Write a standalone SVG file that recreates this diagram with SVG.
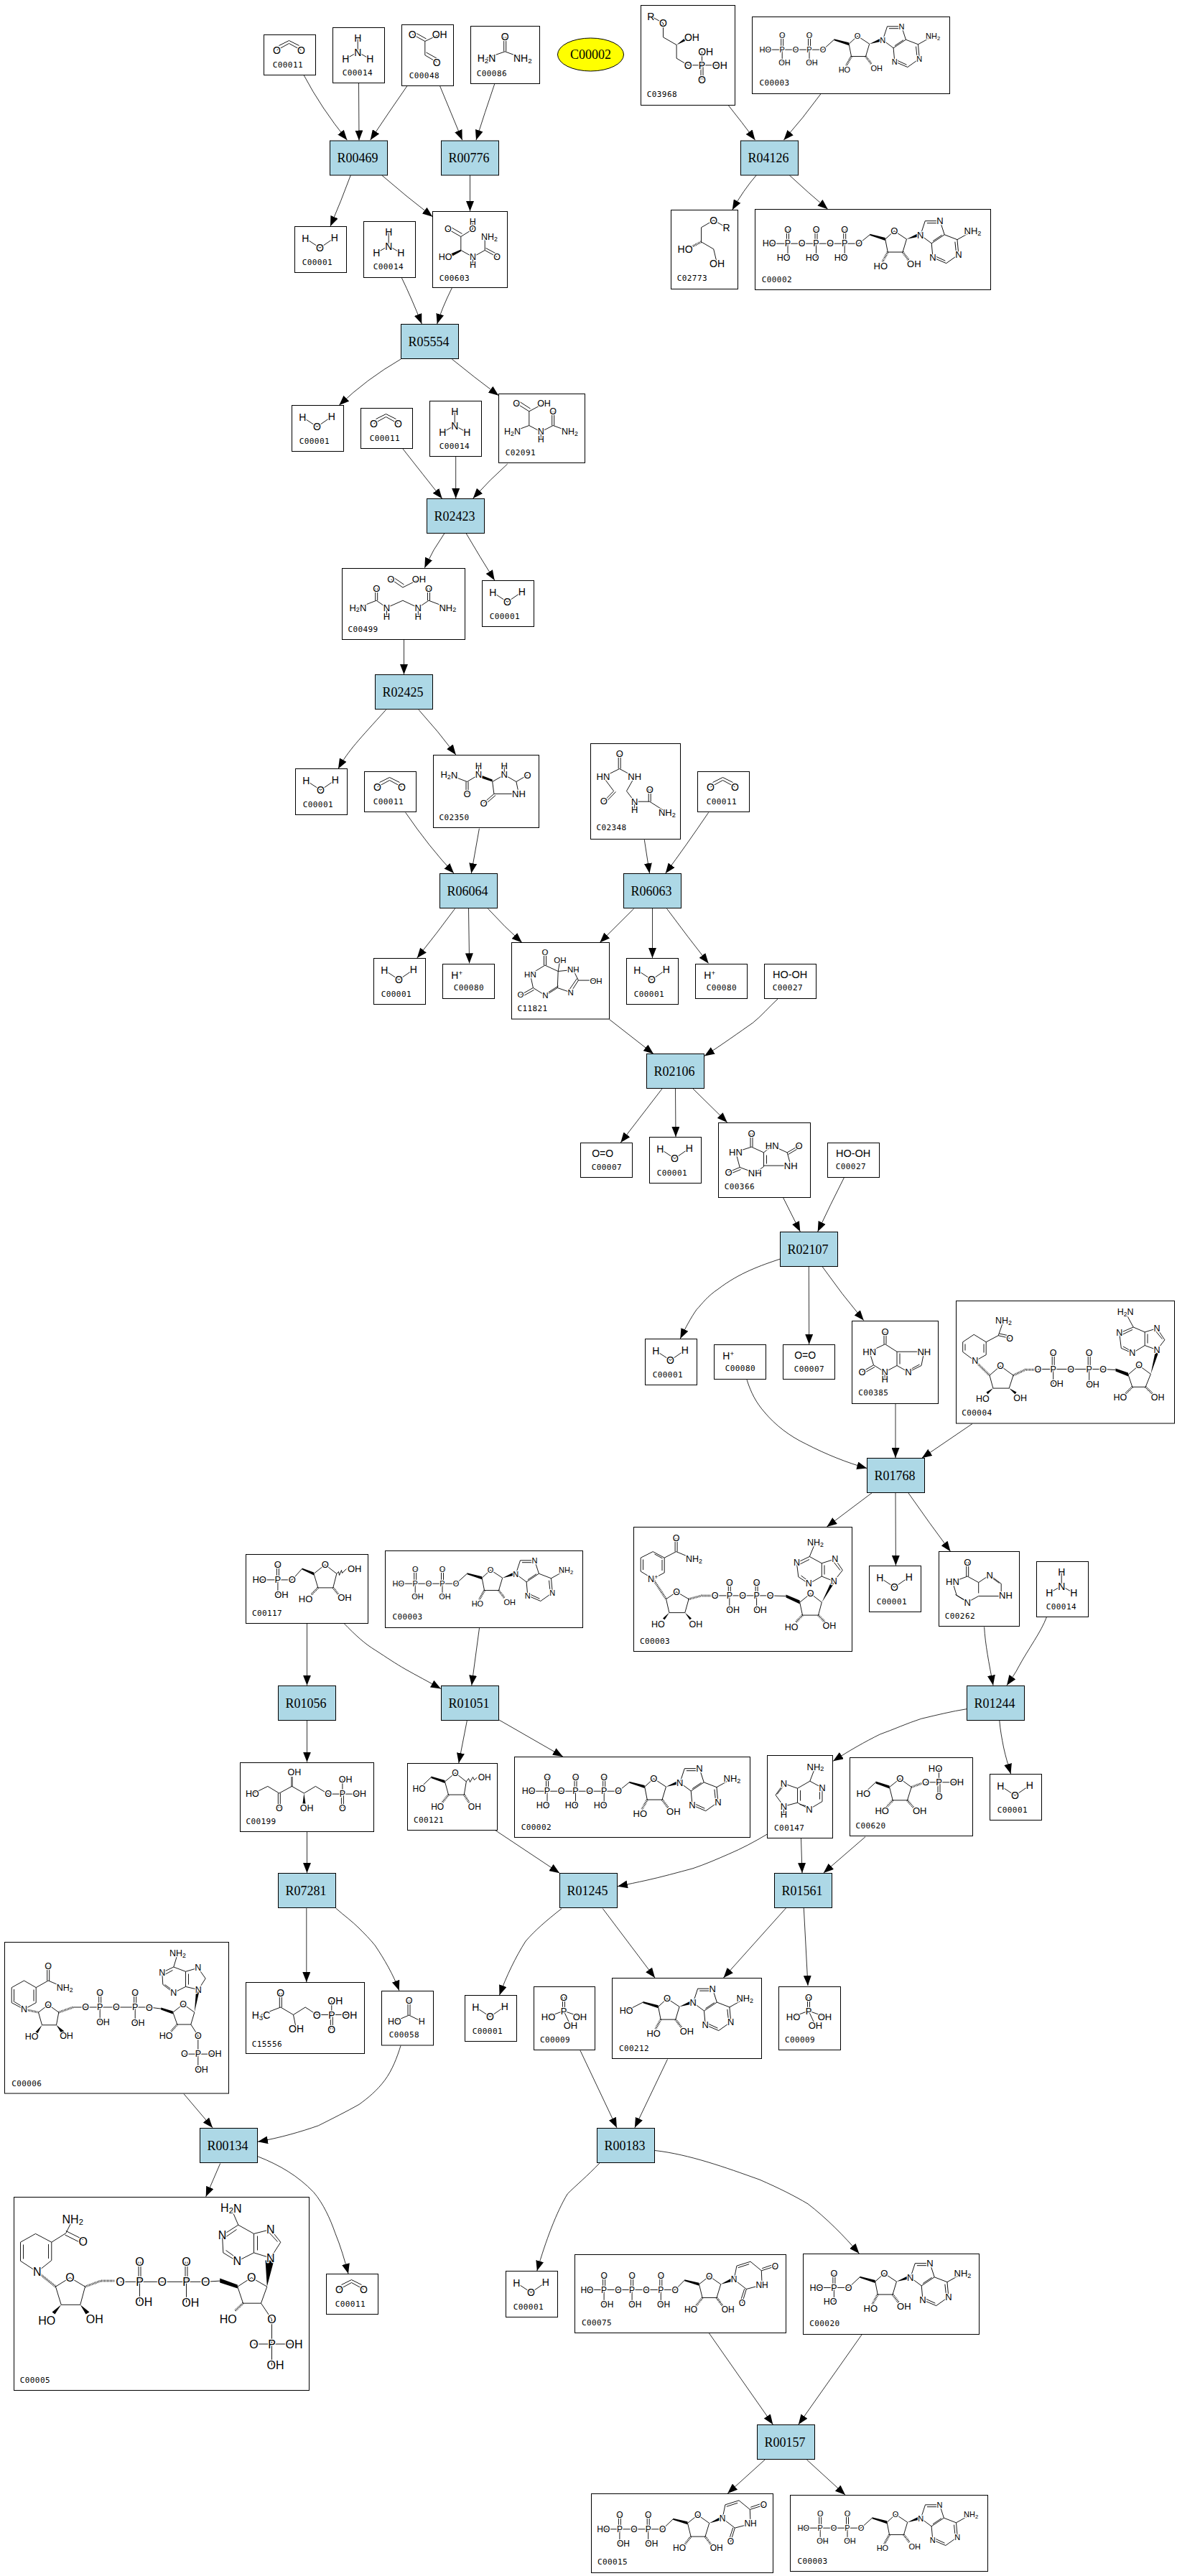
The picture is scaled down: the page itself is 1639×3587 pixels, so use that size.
<svg xmlns="http://www.w3.org/2000/svg" width="1639" height="3587" viewBox="0 0 1639 3587">
<style>
.b{fill:none;stroke:#000;stroke-width:.9}
.w{fill:#000;stroke:none}
.h{fill:none;stroke:#000;stroke-width:3;stroke-dasharray:.8 1.2}
.a{font-family:"Liberation Sans",Arial,sans-serif;text-anchor:middle;dominant-baseline:central;stroke:#fff;stroke-width:2.5;stroke-linejoin:round;paint-order:stroke;fill:#000;opacity:.999}
.l{font-family:"DejaVu Sans Mono","Liberation Mono",monospace;font-size:11px;letter-spacing:.4px;fill:#000;opacity:.999}
.c{fill:#fff;stroke:#000;stroke-width:1}
.r{fill:#ADD8E6;stroke:#000;stroke-width:1}
.t{font-family:"Liberation Serif","Times New Roman",serif;font-size:18px;text-anchor:middle;dominant-baseline:central;fill:#000;opacity:.999}
.e{fill:none;stroke:#000;stroke-width:.8;marker-end:url(#ah)}
.s{font-size:.7em}
</style>
<defs>
<marker id="ah" viewBox="0 0 14 11" refX="14" refY="5.5" markerWidth="14" markerHeight="11" markerUnits="userSpaceOnUse" orient="auto"><path d="M0,0L14,5.5L0,11z" fill="#000"/></marker>

<g id="mW" font-size="14"><path class="b" d="M14.7,16.3L35,29.7L55.3,15.7"/><text class="a" x="14.7" y="16.3">H</text><text class="a" x="35" y="29.7">O</text><text class="a" x="55.3" y="15.7">H</text></g>

<g id="mCO2" font-size="14"><path class="b" d="M18,21.3L35,12L52,21.3M21,15L35,8L49,15"/><text class="a" x="18" y="21.3">O</text><text class="a" x="52" y="21.3">O</text></g>

<g id="mNH3" font-size="14"><path class="b" d="M34.7,14.7V34M17.7,43.7L34.7,34L51.7,43.7"/><text class="a" x="34.7" y="14.7">H</text><text class="a" x="34.7" y="34">N</text><text class="a" x="17.7" y="43.7">H</text><text class="a" x="51.7" y="43.7">H</text></g>

<g id="mC00048" font-size="14"><path class="b" d="M14.7,13.3L32.3,23L52.7,13.3M32.3,23V42.3L48.7,52M17,10L34,19.5M34,38.5L51,48"/><text class="a" x="14.7" y="13.3">O</text><text class="a" x="52.7" y="13.3">OH</text><text class="a" x="48.7" y="52">O</text></g>

<g id="mC00086" font-size="14"><path class="b" d="M46.2,14.7V35M49.2,14.7V35M22,44.3L47.7,35.3L72.3,44.3"/><text class="a" x="47.7" y="14.7">O</text><text class="a" x="22" y="44.3">H<tspan class="s" dy="3">2</tspan><tspan dy="-3">N</tspan></text><text class="a" x="72.3" y="44.3">NH<tspan class="s" dy="3">2</tspan></text></g>

<g id="mC00603" font-size="12.5"><path class="b" d="M21.3,24.7L39.3,35L55.7,24.7M24,21L41,31M55.7,24.7V14M39.3,35V54L56,63.3L72.7,54L89.7,63.3M72.7,54V35.7M74,51L91,60M56,63.3V74"/><polygon class="w" points="39.3,53 39.3,55.5 25,63.5 24,59.5"/><text class="a" x="21.3" y="24.7">O</text><text class="a" x="55.7" y="24.7">O</text><text class="a" x="55.7" y="14">H</text><text class="a" x="17.7" y="63.3">HO</text><text class="a" x="56" y="63.3">N</text><text class="a" x="56" y="74">H</text><text class="a" x="79" y="35.7">NH<tspan class="s" dy="3">2</tspan></text><text class="a" x="89.7" y="63.3">O</text></g>

<g id="mC03968" font-size="14"><path class="b" d="M13.8,15L31,24.7V44.3L49.6,55V73.7L65.8,83.3H109.8M85,64V83.3M83.5,83.3V103.3M86.5,83.3V103.3"/><polygon class="w" points="49.6,55 63,44 65,48"/><text class="a" x="13.8" y="15">R</text><text class="a" x="31" y="24.7">O</text><text class="a" x="70.9" y="44.3">OH</text><text class="a" x="65.8" y="83.3">O</text><text class="a" x="85" y="83.3">P</text><text class="a" x="90.2" y="64">OH</text><text class="a" x="109.8" y="83.3">OH</text><text class="a" x="85" y="103.3">O</text></g>

<g id="mC02773" font-size="14"><path class="b" d="M77.1,24.3L59.2,14.3L42,24.3V44.3L59.2,54.3L64,74.3"/><path class="h" d="M42,44.3L28,51.5"/><text class="a" x="59.2" y="14.3">O</text><text class="a" x="77.1" y="24.3">R</text><text class="a" x="19.6" y="54.3">HO</text><text class="a" x="64" y="74.3">OH</text></g>

<g id="mAdo"><path class="b" d="M20.6,6L32.6,-5L49.2,6L44,23.3H24ZM67.8,.6L74,-18.4H94L99.9,0L82.6,11.6ZM82.6,11.6L84.3,30.6L102.3,38.3L118.8,26.6L117,6.6L99.9,0M117,6.6L137.7,-5M76.5,-15.5H91.5M84.5,8.5L96.5,0.5M88,29L101,35M114,9.5L115.5,23.5"/><polygon class="w" points="0,-1 20.6,4 20.6,8 0,1"/><polygon class="w" points="49.2,6 65,-2 65.5,2.5"/><path class="h" d="M24,23.3L17,36M44,23.3L52,34"/><text class="a" x="32.6" y="-5">O</text><text class="a" x="14.4" y="42.3">HO</text><text class="a" x="59.2" y="39.6">OH</text><text class="a" x="67.8" y=".6">N</text><text class="a" x="94" y="-18.4">N</text><text class="a" x="84.3" y="30.6">N</text><text class="a" x="118.8" y="26.6">N</text><text class="a" x="137.7" y="-5">NH<tspan class="s" dy="3">2</tspan></text></g>

<g id="mADP" font-size="11"><path class="b" d="M18.3,45.7H98.5L114,31.7M40.2,25.3V45.7M43.2,25.3V45.7M41.7,45.7V63.3M78,25.3V45.7M81,25.3V45.7M79.5,45.7V63.3"/><use href="#mAdo" transform="translate(114,31.7)"/><text class="a" x="18.3" y="45.7">HO</text><text class="a" x="41.7" y="45.7">P</text><text class="a" x="60.6" y="45.7">O</text><text class="a" x="79.5" y="45.7">P</text><text class="a" x="98.5" y="45.7">O</text><text class="a" x="41.7" y="25.3">O</text><text class="a" x="79.5" y="25.3">O</text><text class="a" x="45" y="63.3">OH</text><text class="a" x="83" y="63.3">OH</text></g>

<g id="mATP" font-size="12.5"><path class="b" d="M19.6,47.7H144.6L159.8,35.3M44,28V47.7M47,28V47.7M45.5,47.7V67.7M83.5,28V47.7M86.5,28V47.7M85,47.7V67.7M123.2,28V47.7M126.2,28V47.7M124.7,47.7V67.7"/><use href="#mAdo" transform="translate(159.8,35.3) scale(1.04)"/><text class="a" x="19.6" y="47.7">HO</text><text class="a" x="45.5" y="47.7">P</text><text class="a" x="65.1" y="47.7">O</text><text class="a" x="85" y="47.7">P</text><text class="a" x="104.7" y="47.7">O</text><text class="a" x="124.7" y="47.7">P</text><text class="a" x="144.6" y="47.7">O</text><text class="a" x="45.5" y="28">O</text><text class="a" x="85" y="28">O</text><text class="a" x="124.7" y="28">O</text><text class="a" x="39.7" y="67.7">HO</text><text class="a" x="79.5" y="67.7">HO</text><text class="a" x="119.5" y="67.7">HO</text></g>

<g id="mAMP" font-size="12.5"><path class="b" d="M18.4,47H63.1L78.8,32.3M41.4,27.3V47M44.4,27.3V47M42.9,47V66.7"/><use href="#mAdo" transform="translate(78.8,32.3) scale(1.04)"/><text class="a" x="18.4" y="47">HO</text><text class="a" x="42.9" y="47">P</text><text class="a" x="63.1" y="47">O</text><text class="a" x="42.9" y="27.3">O</text><text class="a" x="37.5" y="66.7">HO</text></g>

<g id="mC00212" font-size="12.5"><path class="b" d="M19.6,45.5L42.9,33.6"/><use href="#mAdo" transform="translate(42.9,33.6) scale(1.03)"/><text class="a" x="19.6" y="45.5">HO</text></g>

<g id="mUri"><path class="b" d="M20.3,5.6L34.5,-5.7L50.5,5.6L44.8,24.3H24.9ZM68.9,-1L72.7,-20L91.8,-26L107.1,-13.4L107.9,6.6L86.1,12.3L68.9,-1M107.1,-13.4L126.3,-19.4M108,-16.5L124,-22M86.1,12.3L80.3,31.6M83.5,12L78,29M74.5,-17.5L90,-22.5"/><polygon class="w" points="0,-1 20.3,3.5 20.3,7.5 0,1"/><polygon class="w" points="50.5,5.6 66,-3 66.5,1.5"/><path class="h" d="M24.9,24.3L15,37M44.8,24.3L54,37"/><text class="a" x="34.5" y="-5.7">O</text><text class="a" x="8.8" y="40.6">HO</text><text class="a" x="60.5" y="40.6">OH</text><text class="a" x="68.9" y="-1">N</text><text class="a" x="126.3" y="-19.4">O</text><text class="a" x="107.9" y="6.6">NH</text><text class="a" x="80.3" y="31.6">O</text></g>

<g id="mUTP" font-size="12"><path class="b" d="M16.9,49H139.7L152.7,35.7M39.1,29.7V49M42.1,29.7V49M40.6,49V69M78.1,29.7V49M81.1,29.7V49M79.6,49V69M118.3,29.7V49M121.3,29.7V49M119.8,49V69"/><use href="#mUri" transform="translate(152.7,35.7)"/><text class="a" x="16.9" y="49">HO</text><text class="a" x="40.6" y="49">P</text><text class="a" x="60.5" y="49">O</text><text class="a" x="79.6" y="49">P</text><text class="a" x="99.5" y="49">O</text><text class="a" x="119.8" y="49">P</text><text class="a" x="139.7" y="49">O</text><text class="a" x="40.6" y="29.7">O</text><text class="a" x="79.6" y="29.7">O</text><text class="a" x="119.8" y="29.7">O</text><text class="a" x="44.8" y="69">OH</text><text class="a" x="83.8" y="69">OH</text><text class="a" x="123.6" y="69">OH</text></g>

<g id="mUDP" font-size="12"><path class="b" d="M16.8,49.3H99.1L113.7,35.3M37.9,29.3V49.3M40.9,29.3V49.3M39.4,49.3V69.3M77.7,29.3V49.3M80.7,29.3V49.3M79.2,49.3V69.3"/><use href="#mUri" transform="translate(113.7,35.3)"/><text class="a" x="16.8" y="49.3">HO</text><text class="a" x="39.4" y="49.3">P</text><text class="a" x="59.3" y="49.3">O</text><text class="a" x="79.2" y="49.3">P</text><text class="a" x="99.1" y="49.3">O</text><text class="a" x="39.4" y="29.3">O</text><text class="a" x="79.2" y="29.3">O</text><text class="a" x="44.4" y="69.3">OH</text><text class="a" x="83.8" y="69.3">OH</text></g>

<g id="mC02091" font-size="12.5"><path class="b" d="M24.7,13.3L42.3,24.3L63,13.3M27,9.5L44,20.5M42.3,24.3V44L19,52.7M42.3,44L58.7,52.7L75.7,44L99,52.7M74.2,24V44M77.2,24V44M58.7,52.7V63.3"/><text class="a" x="24.7" y="13.3">O</text><text class="a" x="63" y="13.3">OH</text><text class="a" x="19" y="52.7">H<tspan class="s" dy="3">2</tspan><tspan dy="-3">N</tspan></text><text class="a" x="58.7" y="52.7">N</text><text class="a" x="58.7" y="63.3">H</text><text class="a" x="75.7" y="24">O</text><text class="a" x="99" y="52.7">NH<tspan class="s" dy="3">2</tspan></text></g>

<g id="mC00499" font-size="13"><path class="b" d="M67.9,15.2L84.4,26.5L107,15.2M70,11.5L86,22.5M21.9,54.7L47.7,44.7L62,54.7L84.4,44.7L105.8,54.7L120.5,44.7L146.8,54.7M46.2,27.8V44.7M49.2,27.8V44.7M119,27.8V44.7M122,27.8V44.7M62,54.7V66.5M105.8,54.7V66.5"/><text class="a" x="67.9" y="15.2">O</text><text class="a" x="107" y="15.2">OH</text><text class="a" x="47.7" y="27.8">O</text><text class="a" x="120.5" y="27.8">O</text><text class="a" x="21.9" y="54.7">H<tspan class="s" dy="3">2</tspan><tspan dy="-3">N</tspan></text><text class="a" x="62" y="54.7">N</text><text class="a" x="62" y="66.5">H</text><text class="a" x="105.8" y="54.7">N</text><text class="a" x="105.8" y="66.5">H</text><text class="a" x="146.8" y="54.7">NH<tspan class="s" dy="3">2</tspan></text></g>

<g id="mC02350" font-size="13"><path class="b" d="M21.9,27.4L47,37L63,27.4M45.5,37V53.9M48.5,37V53.9M63,14.7V27.4M98.8,14.7V27.4M82.2,37L98.8,27.4L115.4,37L118.9,53.9H84.4L82.2,37M115.4,37L131,27.8M84.4,53.9L70,66.5M86.5,56L72,68.5"/><polygon class="w" points="82.2,37 82.2,34 68,28.5 67,32"/><text class="a" x="21.9" y="27.4">H<tspan class="s" dy="3">2</tspan><tspan dy="-3">N</tspan></text><text class="a" x="47" y="53.9">O</text><text class="a" x="63" y="27.4">N</text><text class="a" x="63" y="14.7">H</text><text class="a" x="98.8" y="27.4">N</text><text class="a" x="98.8" y="14.7">H</text><text class="a" x="131" y="27.8">O</text><text class="a" x="118.9" y="53.9">NH</text><text class="a" x="70" y="66.5">O</text></g>

<g id="mC02348" font-size="13"><path class="b" d="M38.7,14.3V35M41.7,14.3V35M17.4,46.3L40.2,35L61.2,46.3L50,66L61.2,80.7H82.2L106.3,96M17.4,46.3L32.1,66L18.3,80.3M35,67L21,81.5M80.7,63.5V80.7M83.7,63.5V80.7M61.2,80.7V92"/><text class="a" x="40.2" y="14.3">O</text><text class="a" x="17.4" y="46.3">HN</text><text class="a" x="61.2" y="46.3">NH</text><text class="a" x="18.3" y="80.3">O</text><text class="a" x="61.2" y="80.7">N</text><text class="a" x="61.2" y="92">H</text><text class="a" x="82.2" y="63.5">O</text><text class="a" x="106.3" y="96">NH<tspan class="s" dy="3">2</tspan></text></g>

<g id="mC11821" font-size="11.5"><path class="b" d="M45,13.9V31.6M48,13.9V31.6M25.9,44.2L46.4,31.6L64.7,40L63.8,63L46.9,73.7L29.9,63L25.9,44.2M64.7,40L85.7,37.9L92.9,52.6L82.1,69.4L63.8,63M64.7,40L67.4,24M92.9,52.6H117.5M29.9,63L12.5,72.8M31,66L14,75.5M65,60.5L49,70.5M91,50L80,66"/><text class="a" x="46.4" y="13.9">O</text><text class="a" x="67.4" y="24">OH</text><text class="a" x="85.7" y="37.9">NH</text><text class="a" x="117.5" y="53.5">OH</text><text class="a" x="82.1" y="69.4">N</text><text class="a" x="46.9" y="73.7">N</text><text class="a" x="12.5" y="72.8">O</text><text class="a" x="25.9" y="44.2">HN</text></g>

<g id="mHp" font-size="14"><text class="a" x="19.7" y="15">H<tspan class="s" dy="-4">+</tspan></text></g>
<g id="mO2" font-size="14"><text class="a" x="30.7" y="14.6">O=O</text></g>
<g id="mH2O2" font-size="14.5"><text class="a" x="35.7" y="14.3">HO-OH</text></g>

<g id="mC00366" font-size="13"><path class="b" d="M44.5,14.6V33.6M47.5,14.6V33.6M24,40.7L46,33.6L63,41.4V61L50.7,69.6L29.7,62L24,40.7M63,41.4L74.7,31.8L95.7,41.4L100.7,59.6H63M95.7,41.4L112,31.8M97,44L113,34.5M29.7,62L14,68.6M31,65L15,71.5M67,45V57"/><text class="a" x="46" y="14.6">O</text><text class="a" x="24" y="40.7">HN</text><text class="a" x="14" y="68.6">O</text><text class="a" x="50.7" y="69.6">NH</text><text class="a" x="74.7" y="31.8">HN</text><text class="a" x="112" y="31.8">O</text><text class="a" x="100.7" y="59.6">NH</text></g>

<g id="mC00385" font-size="13"><path class="b" d="M44.5,15V32.2M47.5,15V32.2M24.2,42.7L46,32.2L62.5,42.7V62L45.6,71L30,61.3L24.2,42.7M62.5,42.7H100.3L96.5,62L78.5,71L62.5,62M30,61.3L14,70.6M31.5,64L15.5,73M45.6,71V81.3M66.5,45V60M94,60.5L80,68"/><text class="a" x="46" y="15">O</text><text class="a" x="24.2" y="42.7">HN</text><text class="a" x="14" y="70.6">O</text><text class="a" x="45.6" y="71">N</text><text class="a" x="45.6" y="81.3">H</text><text class="a" x="100.3" y="42.7">NH</text><text class="a" x="78.5" y="71">N</text></g>

<g id="mC00004" font-size="12.5"><path class="b" d="M65.9,27.5L58.7,48.2L41.7,57.2L24.7,46.8L9.2,57.2V71L26.2,83.7L41.7,75V57.2M58.7,48.2L74.7,52M60,45.5L76,49M38.5,60V72M12.5,60V69M61.6,90.6L46.5,103.6L51.4,121.6H73.7L79.5,103.6ZM113.9,95H204.6L222,96M133.7,72.7V95M136.7,72.7V95M135.2,95V115.7M183.7,72.7V95M186.7,72.7V95M185.2,95V116.4M254.5,89.9L239.5,102.6L245.3,119.8H263.7L270.9,101.9ZM279.6,68.2L290.4,54.3L279.6,38.2L262.7,43.4V62L279.6,68.2M262.7,62L245.3,72.7L229.8,65.8L227.3,44.8L246.7,36.5L262.7,43.4M246.7,36.5L235.6,15.8M266.5,46V59M231,47L245.5,40M232.5,63.5L244,70M287,53L277,41"/><path class="h" d="M26.2,83.7L46.5,103.6M79.5,103.6L96.4,95.7H113"/><polygon class="w" points="222,94 239.5,100 239.5,105 222,98"/><polygon class="w" points="270.9,102 277,72 281.5,72.5"/><polygon class="w" points="51.4,121.6 44,130 42,127"/><polygon class="w" points="73.7,121.6 82,130 84,127"/><path class="h" d="M245.3,119.8L235,130M263.7,119.8L274,130"/><text class="a" x="65.9" y="27.5">NH<tspan class="s" dy="3">2</tspan></text><text class="a" x="74.7" y="52">O</text><text class="a" x="26.2" y="83.7">N</text><text class="a" x="61.6" y="90.6">O</text><text class="a" x="36.8" y="136.4">HO</text><text class="a" x="89.2" y="135.3">OH</text><text class="a" x="113.9" y="95">O</text><text class="a" x="135.2" y="95">P</text><text class="a" x="135.2" y="72.7">O</text><text class="a" x="140" y="115.7">OH</text><text class="a" x="159.5" y="95">O</text><text class="a" x="185.2" y="95">P</text><text class="a" x="185.2" y="72.7">O</text><text class="a" x="190" y="116.4">OH</text><text class="a" x="204.6" y="95">O</text><text class="a" x="254.5" y="89.9">O</text><text class="a" x="228.3" y="134.6">HO</text><text class="a" x="280.7" y="134.6">OH</text><text class="a" x="279.6" y="68.2">N</text><text class="a" x="279.6" y="38.2">N</text><text class="a" x="245.3" y="72.7">N</text><text class="a" x="227.3" y="44.8">N</text><text class="a" x="235.6" y="15.8">H<tspan class="s" dy="3">2</tspan><tspan dy="-3">N</tspan></text></g>

<g id="mC00003n" font-size="12.5"><path class="b" d="M57.6,15.2V34.1M60.6,15.2V34.1M83.9,44.4L59.1,34.1L42.7,42.7L26.7,34.1L9.7,42.7V61.6L26.7,72L42.7,63.4V42.7M13,45V59.5M39.5,45.5V60.5M29,37.5L40,43.5M59.6,90.2L45.1,100.2L49.4,119.1H71.3L76.6,100.2ZM113,95.4H190L212,96M131.8,77.1V95.4M134.8,77.1V95.4M133.3,95.4V115M169.6,77.1V95.4M172.6,77.1V95.4M171.1,95.4V115M246.2,92.6L231.2,104.7L235,122.6H257L261.8,104.7ZM278.7,75.4L290.8,59.9L280.2,44.4L261.8,50.3V68.5L278.7,75.4M261.8,68.5L243.8,78.9L229.3,69.2L226.9,49.6L244.8,41L261.8,50.3M244.8,41L253,21.3M265.5,53V66M230.5,52L244.5,45M233,67.5L243,75M287.5,60L278,48"/><path class="h" d="M26.7,72L45.1,100.2M76.6,100.2L94.5,95.4H112"/><polygon class="w" points="212,94 231.2,102 231.2,107 212,98"/><polygon class="w" points="261.8,105 275,76 279,78"/><polygon class="w" points="49.4,119.1 43,129 40.5,127"/><polygon class="w" points="71.3,119.1 78,129 80.5,127"/><path class="h" d="M235,122.6L226,132M257,122.6L266,132"/><text class="a" x="59.1" y="15.2">O</text><text class="a" x="83.9" y="44.4">NH<tspan class="s" dy="3">2</tspan></text><text class="a" x="26.7" y="72">N<tspan class="s" dy="-3">+</tspan></text><text class="a" x="59.6" y="90.2">O</text><text class="a" x="33.9" y="135.7">HO</text><text class="a" x="86.3" y="135.7">OH</text><text class="a" x="113" y="95.4">O</text><text class="a" x="133.3" y="95.4">P</text><text class="a" x="133.3" y="77.1">O</text><text class="a" x="138.1" y="115">OH</text><text class="a" x="151.7" y="95.4">O</text><text class="a" x="171.1" y="95.4">P</text><text class="a" x="171.1" y="77.1">O</text><text class="a" x="176" y="115">OH</text><text class="a" x="190" y="95.4">O</text><text class="a" x="246.2" y="92.6">O</text><text class="a" x="219.6" y="139.1">HO</text><text class="a" x="272.4" y="137.4">OH</text><text class="a" x="278.7" y="75.4">N</text><text class="a" x="280.2" y="44.4">N</text><text class="a" x="243.8" y="78.9">N</text><text class="a" x="226.9" y="49.6">N</text><text class="a" x="253" y="21.3">NH<tspan class="s" dy="3">2</tspan></text></g>

<g id="mC00262" font-size="13"><path class="b" d="M38.2,14.5V34.5M41.2,14.5V34.5M19,42.4L39.7,34.5L55.2,43L70.7,32.7L86.7,44.8V56M19,42.4L24.7,61L39.7,70.6L55.2,62H85M55.2,43V58M23,60L37,68M73,36L84,44"/><text class="a" x="39.7" y="14.5">O</text><text class="a" x="19" y="42.4">HN</text><text class="a" x="39.7" y="70.6">N</text><text class="a" x="70.7" y="32.7">N</text><text class="a" x="93" y="61">NH</text></g>

<g id="mC00117" font-size="13"><path class="b" d="M18.7,35.4H64.3L78,20M42.9,14.3V35.4M45.9,14.3V35.4M44.4,35.4V56.4M94.5,26.8L110.2,14.3L126.3,26.8L121.3,46.4H100.3ZM126.3,26.8L129,24L130,29L133,22L134,26L140,20"/><polygon class="w" points="78,19 94.5,25 94.5,29 78,21"/><path class="h" d="M100.3,46.4L91,56M121.3,46.4L129,56"/><text class="a" x="18.7" y="35.4">HO</text><text class="a" x="44.4" y="35.4">P</text><text class="a" x="44.4" y="14.3">O</text><text class="a" x="49.4" y="56.4">OH</text><text class="a" x="64.3" y="35.4">O</text><text class="a" x="110.2" y="14.3">O</text><text class="a" x="83" y="61.8">HO</text><text class="a" x="137.4" y="60.4">OH</text><text class="a" x="151.2" y="19.6">OH</text></g>

<g id="mC00199" font-size="12.5"><path class="b" d="M16.8,43.6L38.3,32.9L54.3,42.5L72,32.9L88.8,42.5L104.9,32.9L122.5,43.6H166.1M52.8,42.5V63.2M55.8,42.5V63.2M142.4,23.2V43.6M140.9,43.6V63.2M143.9,43.6V63.2"/><path class="h" d="M72,32.9V19"/><polygon class="w" points="88.8,42.5 87,57 91,57"/><text class="a" x="16.8" y="43.6">HO</text><text class="a" x="54.3" y="63.2">O</text><text class="a" x="75.4" y="13.2">OH</text><text class="a" x="92.6" y="63.2">OH</text><text class="a" x="122.5" y="43.6">O</text><text class="a" x="142.4" y="43.6">P</text><text class="a" x="146.6" y="23.2">OH</text><text class="a" x="166.1" y="43.6">OH</text><text class="a" x="142.4" y="63.2">O</text></g>

<g id="mC00121" font-size="12"><path class="b" d="M16.1,35.4L32.9,19.3M52,25.4L66.5,13.2L81.8,25.4L78.8,43.6H57ZM81.8,25.4L85,21L87,26L91,19L93,23L97,19.5"/><polygon class="w" points="32.9,18 52,23.5 52,27.5 32.9,20.5"/><path class="h" d="M57,43.6L48,55M78.8,43.6L86,55"/><text class="a" x="16.1" y="35.4">HO</text><text class="a" x="66.5" y="13.2">O</text><text class="a" x="41.7" y="60.4">HO</text><text class="a" x="93.3" y="60.4">OH</text><text class="a" x="107.2" y="19.3">OH</text></g>

<g id="mC00147" font-size="13"><path class="b" d="M67,15.7L59.3,35.7L76.5,45V64L58.5,74.7L42,65.7V45.7L59.3,35.7M42,45.7L22.9,39L11.5,55L22.9,70.7L42,65.7M22.9,70.7V82.3M73,49V61M46,48.5V63M45,68L57,71M22,43L13.5,54"/><text class="a" x="67" y="15.7">NH<tspan class="s" dy="3">2</tspan></text><text class="a" x="76.5" y="45">N</text><text class="a" x="58.5" y="74.7">N</text><text class="a" x="22.9" y="39">N</text><text class="a" x="22.9" y="70.7">N</text><text class="a" x="22.9" y="82.3">H</text></g>

<g id="mC00620" font-size="13"><path class="b" d="M18.8,50.3L36,34.3M55.1,41L69.7,29.3L85.7,41L80,59.3H59.7ZM105.6,34.3H148.9M124,14.7V34.3M122.5,34.3V53.7M125.5,34.3V53.7"/><polygon class="w" points="36,33 55.1,39 55.1,43 36,36"/><path class="h" d="M59.7,59.3L50,70M80,59.3L89,70M85.7,41L102,35"/><text class="a" x="18.8" y="50.3">HO</text><text class="a" x="69.7" y="29.3">O</text><text class="a" x="44.7" y="74.3">HO</text><text class="a" x="97.2" y="74.3">OH</text><text class="a" x="105.6" y="34.3">O</text><text class="a" x="124" y="34.3">P</text><text class="a" x="119" y="14.7">HO</text><text class="a" x="148.9" y="34.3">OH</text><text class="a" x="124" y="53.7">O</text></g>

<g id="mC00058" font-size="12.5"><path class="b" d="M36.5,13V33.6M39.5,13V33.6M17.9,42.3L38,33.6L55.8,42.3"/><text class="a" x="38" y="13">O</text><text class="a" x="17.9" y="42.3">HO</text><text class="a" x="55.8" y="42.3">H</text></g>

<g id="mC00009" font-size="13"><path class="b" d="M40,14.6V33.6M43,14.6V33.6M20.1,41.5L41.5,33.6L63.9,41.5M41.5,33.6L50.9,53.8"/><text class="a" x="41.5" y="14.6">O</text><text class="a" x="41.5" y="33.6">P</text><text class="a" x="20.1" y="41.5">HO</text><text class="a" x="63.9" y="41.5">OH</text><text class="a" x="50.9" y="53.8">OH</text></g>

<g id="mC15556" font-size="14"><path class="b" d="M21,45L48.3,34.5L66,45L82.7,34.5L98.7,45H144.3M46.8,14.7V34.5M49.8,14.7V34.5M66,45L70,64.8M119.3,25.3V45M117.8,45V65.2M120.8,45V65.2"/><text class="a" x="21" y="45">H<tspan class="s" dy="3">3</tspan><tspan dy="-3">C</tspan></text><text class="a" x="48.3" y="14.7">O</text><text class="a" x="70" y="64.8">OH</text><text class="a" x="98.7" y="45">O</text><text class="a" x="119.3" y="45">P</text><text class="a" x="124.3" y="25.3">OH</text><text class="a" x="144.3" y="45">OH</text><text class="a" x="119.3" y="65.2">O</text></g>

<g id="mC00006" font-size="12.5"><path class="b" d="M59.2,33.7V53.5M62.2,33.7V53.5M83.7,63.1L60.7,53.5L43.7,63.1L27,53.5L9.7,63.1V84.2L27,93.4L43.7,84.2V63.1M13,65.5V81.5M40.5,66V82M60.7,87.1L47,97.6L52,115.3H72L75.3,97.6ZM95.3,90.5H201.3L217.7,92.6M131.2,70.3V90.5M134.2,70.3V90.5M132.7,90.5V111.5M180.2,70.3V90.5M183.2,70.3V90.5M181.7,90.5V112.4M248.7,86.3L234.3,97.6L240.3,114.5H259.3L264.3,97.6ZM259.3,114.5L269.3,130V155.7M250.3,155.7H292.7M269.3,155.7V177.6M269.7,66L279.7,50.5L269.3,35.8L252,40.8V61.9L269.7,66M252,61.9L235.3,70.3L220.3,58.9L219.3,42.1L235.3,34.5L252,40.8M235.3,34.5L241,15.6M256,44V59M223,45L234,39M223,59L234,67M12,82L25,90"/><path class="h" d="M27,93.4L47,97.6M75.3,97.6L95.3,90.5M240.3,114.5L232,124"/><polygon class="w" points="217.7,91 234.3,96 234.3,100 217.7,94"/><polygon class="w" points="264.3,97.6 266.5,68 271,68"/><polygon class="w" points="52,115.3 43,125 46,127"/><polygon class="w" points="72,115.3 79,127 83,124"/><text class="a" x="60.7" y="33.7">O</text><text class="a" x="83.7" y="63.1">NH<tspan class="s" dy="3">2</tspan></text><text class="a" x="27" y="93.4">N</text><text class="a" x="60.7" y="87.1">O</text><text class="a" x="37.7" y="131.3">HO</text><text class="a" x="86" y="130">OH</text><text class="a" x="112.7" y="90.5">O</text><text class="a" x="132.7" y="90.5">P</text><text class="a" x="132.7" y="70.3">O</text><text class="a" x="137" y="111.5">OH</text><text class="a" x="155.3" y="90.5">O</text><text class="a" x="181.7" y="90.5">P</text><text class="a" x="181.7" y="70.3">O</text><text class="a" x="185.7" y="112.4">OH</text><text class="a" x="201.3" y="91.3">O</text><text class="a" x="248.7" y="86.3">O</text><text class="a" x="224.7" y="130">HO</text><text class="a" x="269.3" y="130">O</text><text class="a" x="269.3" y="155.7">P</text><text class="a" x="250.3" y="155.7">O</text><text class="a" x="292.7" y="155.7">OH</text><text class="a" x="274" y="177.6">OH</text><text class="a" x="269.7" y="66">N</text><text class="a" x="269.3" y="35.8">N</text><text class="a" x="235.3" y="70.3">N</text><text class="a" x="219.3" y="42.1">N</text><text class="a" x="241" y="15.6">NH<tspan class="s" dy="3">2</tspan></text></g>

<g id="mC00005" font-size="16"><path class="b" d="M81.7,31.1L72.3,50.1L52.3,62.7L30,50.9L9,62.7V88.8L32.3,104L52.3,88V62.7M72.3,47L96.3,59M71,52.5L95,64.5M13,66V86M48,65.5V85.5M78,112L58,124.6L65.7,149.8H92.3L99,124.6ZM148,117.8H266.7L286.7,116.6M173.5,90V117.8M176.5,90V117.8M175,117.8V145.6M238.5,90V117.8M241.5,90V117.8M240,117.8V146.9M330.7,112L311.3,124.6L319,147.7H344L352.3,124.6ZM344,147.7L359,170V204.5M334,204.5H390M359,204.5V234.4M357.3,84.6L371.3,62.7L357.3,45L334,50.9V77.4L357.3,84.6M334,77.4L310.7,89.2L291.3,77.4L290,53L312.3,38.7L334,50.9M312.3,38.7L302.3,15.2M339,54V74M294,56L310,45M295,74L309,84M367,62L355,49"/><path class="h" d="M32.3,104L58,124.6M99,124.6L120.7,116.6H140M319,147.7L308,158"/><polygon class="w" points="286.7,113 311.3,122 311.3,127 286.7,119"/><polygon class="w" points="352.3,124.6 350,88 362,88"/><polygon class="w" points="65.7,149.8 53,160 57,163"/><polygon class="w" points="92.3,149.8 100,163 105,160"/><text class="a" x="81.7" y="31.1">NH<tspan class="s" dy="3">2</tspan></text><text class="a" x="96.3" y="61.9">O</text><text class="a" x="32.3" y="104">N</text><text class="a" x="78" y="112">O</text><text class="a" x="45.7" y="172.1">HO</text><text class="a" x="112.3" y="170">OH</text><text class="a" x="148" y="117.8">O</text><text class="a" x="175" y="117.8">P</text><text class="a" x="175" y="90">O</text><text class="a" x="180.7" y="145.6">OH</text><text class="a" x="206.3" y="117.8">O</text><text class="a" x="240" y="117.8">P</text><text class="a" x="240" y="90">O</text><text class="a" x="245.7" y="146.9">OH</text><text class="a" x="266.7" y="117.8">O</text><text class="a" x="330.7" y="112">O</text><text class="a" x="298.3" y="170">HO</text><text class="a" x="359" y="170">O</text><text class="a" x="359" y="204.5">P</text><text class="a" x="334" y="204.5">O</text><text class="a" x="390" y="204.5">OH</text><text class="a" x="364" y="234.4">OH</text><text class="a" x="357.3" y="84.6">N</text><text class="a" x="357.3" y="45">N</text><text class="a" x="310.7" y="89.2">N</text><text class="a" x="290" y="53">N</text><text class="a" x="302.3" y="15.2">H<tspan class="s" dy="3">2</tspan><tspan dy="-3">N</tspan></text></g>
</defs>

<g id="connectors">
<path class="e" d="M423.3,105Q447,150 483.3,195"/>
<path class="e" d="M499.5,115.7L500,195.5"/>
<path class="e" d="M566.7,120Q541,157 515.7,195"/>
<path class="e" d="M612.7,120Q628,157 643.7,195"/>
<path class="e" d="M688.7,117Q675,157 663,195"/>
<path class="e" d="M488.3,244Q475,280 460,315"/>
<path class="e" d="M531.7,244Q565,273 602.3,301.7"/>
<path class="e" d="M654.5,244V294"/>
<path class="e" d="M559.3,386.7Q573,415 587.3,451"/>
<path class="e" d="M629.3,401Q615,430 608.7,451"/>
<path class="e" d="M1014.3,146.7Q1033,170 1051.5,195"/>
<path class="e" d="M1143,130.7Q1118,165 1091.4,195"/>
<path class="e" d="M1053.2,244Q1035,265 1019.8,292.3"/>
<path class="e" d="M1099.3,244Q1125,268 1152.7,291.3"/>
<path class="e" d="M558.3,500Q510,528 472.3,564.3"/>
<path class="e" d="M629.3,500Q660,525 694.3,550.7"/>
<path class="e" d="M561,625Q590,662 615.7,694.3"/>
<path class="e" d="M634.7,635.7V694"/>
<path class="e" d="M706.7,646Q682,668 658.7,694"/>
<path class="e" d="M618.7,743Q603,765 591.3,790.7"/>
<path class="e" d="M649.3,743Q668,775 688.7,808"/>
<path class="e" d="M562.5,891V939"/>
<path class="e" d="M537.5,988.3C500,1030 485,1045 471,1070.4"/>
<path class="e" d="M583,988.3Q610,1018 634.8,1051"/>
<path class="e" d="M564.7,1131.4Q598,1180 632,1216"/>
<path class="e" d="M667.4,1153.7L656.3,1216"/>
<path class="e" d="M897.3,1169.3L904.5,1216"/>
<path class="e" d="M986.6,1131.4Q955,1178 926.8,1216"/>
<path class="e" d="M633.5,1265.3Q608,1300 580.8,1333.9"/>
<path class="e" d="M652.5,1264.8L653.6,1341.4"/>
<path class="e" d="M679.5,1265.3Q702,1290 726.8,1312.4"/>
<path class="e" d="M882.6,1265.3L835.3,1312.4"/>
<path class="e" d="M908.5,1264.8V1333.9"/>
<path class="e" d="M928.6,1265.3Q958,1305 986.6,1341.4"/>
<path class="e" d="M848.7,1419.6L910,1467.5"/>
<path class="e" d="M1083,1391C1070,1403 1060,1415 1048.3,1424.3C1030,1437 1005,1455 981,1470.4"/>
<path class="e" d="M922,1516L864.3,1591"/>
<path class="e" d="M940.5,1515.7L941,1582.9"/>
<path class="e" d="M965,1516L1012.7,1562.9"/>
<path class="e" d="M1090.7,1667.9L1114.3,1715"/>
<path class="e" d="M1175.3,1640Q1156,1678 1138.7,1715"/>
<path class="e" d="M1086,1753.2C1060,1762 1030,1772 1000,1795C985,1805 978,1815 970,1823.6C962,1835 955,1848 947.3,1864"/>
<path class="e" d="M1126.3,1764L1126.7,1871.8"/>
<path class="e" d="M1145.3,1764Q1172,1802 1202.7,1838.6"/>
<path class="e" d="M1040,1921.2C1046,1940 1053,1953 1064.2,1966C1080,1985 1100,2000 1122.4,2010.7C1150,2025 1180,2037 1207.2,2044.5"/>
<path class="e" d="M1247,1954.6V2030"/>
<path class="e" d="M1354,1982.5L1283.8,2030.3"/>
<path class="e" d="M1214,2078.9L1151.4,2126"/>
<path class="e" d="M1247,2078.9L1247.4,2179.8"/>
<path class="e" d="M1264.9,2078.9Q1295,2122 1323.5,2160.2"/>
<path class="e" d="M1370.6,2265.5C1372,2290 1377,2315 1383,2346.7"/>
<path class="e" d="M1457.3,2252C1450,2272 1432,2296 1419,2320C1414,2330 1408,2338 1402,2346.7"/>
<path class="e" d="M427.5,2260.7V2346.8"/>
<path class="e" d="M479.2,2260.7C495,2277 508,2289 522.8,2297.9C540,2309 550,2316 565,2324.6C580,2333 597,2342 613.9,2351.4"/>
<path class="e" d="M667.5,2267L656.8,2346.8"/>
<path class="e" d="M427.5,2396V2453.6"/>
<path class="e" d="M427.5,2551V2607.9"/>
<path class="e" d="M650.3,2396L638.8,2455"/>
<path class="e" d="M695,2395L783.8,2446"/>
<path class="e" d="M689.7,2548.6L779.2,2608.2"/>
<path class="e" d="M1068.4,2554C1050,2565 1033,2574 1014.8,2581.7C998,2589 982,2596 965,2601.7C945,2607 920,2614 900,2618.3C888,2621 873,2624 860,2626.8"/>
<path class="e" d="M1346.2,2379.7C1325,2383 1305,2388 1282.7,2393.3C1262,2400 1245,2408 1225.3,2415C1205,2425 1182,2438 1160.2,2452.3"/>
<path class="e" d="M1391.8,2396C1393,2410 1395,2420 1397.5,2433C1400,2445 1404,2458 1407.5,2470"/>
<path class="e" d="M1115.5,2560L1117,2608"/>
<path class="e" d="M1205,2557.7L1146.8,2608"/>
<path class="e" d="M1094.4,2657L1007.5,2754"/>
<path class="e" d="M1119.3,2657L1125,2765"/>
<path class="e" d="M426.8,2657.2V2760"/>
<path class="e" d="M467.7,2657.2C480,2668 490,2675 500,2685C508,2693 515,2700 522.3,2709C535,2728 548,2750 555.8,2771.8"/>
<path class="e" d="M558,2848.5C553,2865 546,2883 535.7,2896.8C525,2911 513,2921 500,2930.4C483,2940 463,2950 443.3,2959.9C420,2968 390,2977 359,2982.2"/>
<path class="e" d="M256,2915.7L296,2962.8"/>
<path class="e" d="M306.7,3012.5L286.7,3058.8"/>
<path class="e" d="M359,3002.8C390,3015 415,3030 436.7,3052.5C450,3068 460,3090 466.7,3109.3C474,3127 480,3147 485,3166.1"/>
<path class="e" d="M782.1,2657.6C760,2675 745,2688 732,2703C718,2725 705,2752 695.5,2778.2"/>
<path class="e" d="M839.3,2657.6L912,2754"/>
<path class="e" d="M808,2855.3L858.9,2962.8"/>
<path class="e" d="M929.5,2867.5L883.9,2962.8"/>
<path class="e" d="M834.8,3012.2C818,3030 802,3043 790.2,3055C775,3080 760,3120 747.8,3162.1"/>
<path class="e" d="M912,2994.5C960,3000 1010,3018 1058,3035.2C1085,3047 1105,3057 1125,3068.8C1150,3088 1175,3113 1196.4,3138"/>
<path class="e" d="M987.5,3249L1076.3,3376"/>
<path class="e" d="M1200,3251L1111.9,3376"/>
<path class="e" d="M1065.2,3425L1013.2,3472"/>
<path class="e" d="M1123.4,3425L1177,3474"/>
</g>

<g id="C00002"><ellipse cx="822.5" cy="76" rx="46" ry="23" fill="#ff0" stroke="#000"/><text class="t" x="822.5" y="76">C00002</text></g>

<g id="R00469" transform="translate(459.5,196)"><rect class="r" width="80" height="48"/><text class="t" x="38.5" y="24">R00469</text></g>
<g id="R00776" transform="translate(614.5,196)"><rect class="r" width="80" height="48"/><text class="t" x="38.5" y="24">R00776</text></g>
<g id="R04126" transform="translate(1031.5,196)"><rect class="r" width="80" height="48"/><text class="t" x="38.5" y="24">R04126</text></g>
<g id="R05554" transform="translate(558.5,451.5)"><rect class="r" width="80" height="48"/><text class="t" x="38.5" y="24">R05554</text></g>
<g id="R02423" transform="translate(594.5,694.5)"><rect class="r" width="80" height="48"/><text class="t" x="38.5" y="24">R02423</text></g>
<g id="R02425" transform="translate(522.5,939.5)"><rect class="r" width="80" height="48"/><text class="t" x="38.5" y="24">R02425</text></g>
<g id="R06064" transform="translate(612.5,1216.5)"><rect class="r" width="80" height="48"/><text class="t" x="38.5" y="24">R06064</text></g>
<g id="R06063" transform="translate(868.5,1216.5)"><rect class="r" width="80" height="48"/><text class="t" x="38.5" y="24">R06063</text></g>
<g id="R02106" transform="translate(900.5,1467.5)"><rect class="r" width="80" height="48"/><text class="t" x="38.5" y="24">R02106</text></g>
<g id="R02107" transform="translate(1086.5,1715.5)"><rect class="r" width="80" height="48"/><text class="t" x="38.5" y="24">R02107</text></g>
<g id="R01768" transform="translate(1207.5,2030.5)"><rect class="r" width="80" height="48"/><text class="t" x="38.5" y="24">R01768</text></g>
<g id="R01056" transform="translate(387.5,2347.5)"><rect class="r" width="80" height="48"/><text class="t" x="38.5" y="24">R01056</text></g>
<g id="R01051" transform="translate(614.5,2347.5)"><rect class="r" width="80" height="48"/><text class="t" x="38.5" y="24">R01051</text></g>
<g id="R01244" transform="translate(1346.5,2347.5)"><rect class="r" width="80" height="48"/><text class="t" x="38.5" y="24">R01244</text></g>
<g id="R07281" transform="translate(387.5,2608.5)"><rect class="r" width="80" height="48"/><text class="t" x="38.5" y="24">R07281</text></g>
<g id="R01245" transform="translate(779.5,2608.5)"><rect class="r" width="80" height="48"/><text class="t" x="38.5" y="24">R01245</text></g>
<g id="R01561" transform="translate(1078.5,2608.5)"><rect class="r" width="80" height="48"/><text class="t" x="38.5" y="24">R01561</text></g>
<g id="R00134" transform="translate(278.5,2963.5)"><rect class="r" width="80" height="48"/><text class="t" x="38.5" y="24">R00134</text></g>
<g id="R00183" transform="translate(831.5,2963.5)"><rect class="r" width="80" height="48"/><text class="t" x="38.5" y="24">R00183</text></g>
<g id="R00157" transform="translate(1054.5,3376.5)"><rect class="r" width="80" height="48"/><text class="t" x="38.5" y="24">R00157</text></g>

<g id="C00011_1" transform="translate(367.5,48.5)"><rect class="c" width="72" height="56"/><use href="#mCO2"/><text class="l" x="12.3" y="45">C00011</text></g>
<g id="C00014_1" transform="translate(463.5,38.5)"><rect class="c" width="72" height="77"/><use href="#mNH3"/><text class="l" x="13.3" y="66.7">C00014</text></g>
<g id="C00048" transform="translate(559.5,34.5)"><rect class="c" width="72" height="85"/><use href="#mC00048"/><text class="l" x="10.3" y="74.7">C00048</text></g>
<g id="C00086" transform="translate(655.5,36.5)"><rect class="c" width="96" height="80"/><use href="#mC00086"/><text class="l" x="8.3" y="69.7">C00086</text></g>
<g id="C00001_1" transform="translate(410.5,315.5)"><rect class="c" width="72" height="64"/><use href="#mW"/><text class="l" x="10.3" y="53.7">C00001</text></g>
<g id="C00014_2" transform="translate(506.5,308.5)"><rect class="c" width="72" height="78"/><use href="#mNH3"/><text class="l" x="13.3" y="66.7">C00014</text></g>
<g id="C00603" transform="translate(602.5,294.5)"><rect class="c" width="104" height="106"/><use href="#mC00603"/><text class="l" x="9.3" y="96.3">C00603</text></g>
<g id="C03968" transform="translate(892.5,7.5)"><rect class="c" width="131" height="139"/><use href="#mC03968"/><text class="l" x="8.3" y="127">C03968</text></g>
<g id="C00003_1" transform="translate(1047.5,23.5)"><rect class="c" width="275" height="107"/><use href="#mADP"/><text class="l" x="10" y="95.7">C00003</text></g>
<g id="C02773" transform="translate(934.5,292.5)"><rect class="c" width="93" height="110"/><use href="#mC02773"/><text class="l" x="8.3" y="98.3">C02773</text></g>
<g id="C00002_1" transform="translate(1051.5,291.5)"><rect class="c" width="328" height="112"/><use href="#mATP"/><text class="l" x="9.3" y="101">C00002</text></g>
<g id="C00001_2" transform="translate(406.5,564.5)"><rect class="c" width="72" height="64"/><use href="#mW"/><text class="l" x="10.3" y="53.7">C00001</text></g>
<g id="C00011_2" transform="translate(502.5,568.5)"><rect class="c" width="72" height="56"/><use href="#mCO2"/><text class="l" x="12.3" y="45">C00011</text></g>
<g id="C00014_3" transform="translate(598.5,558.5)"><rect class="c" width="72" height="77"/><use href="#mNH3"/><text class="l" x="13.3" y="66.7">C00014</text></g>
<g id="C02091" transform="translate(694.5,548.5)"><rect class="c" width="120" height="96"/><use href="#mC02091"/><text class="l" x="9.3" y="85">C02091</text></g>
<g id="C00499" transform="translate(476.5,791.5)"><rect class="c" width="171" height="99"/><use href="#mC00499"/><text class="l" x="8" y="88.4">C00499</text></g>
<g id="C00001_3" transform="translate(671.5,808.5)"><rect class="c" width="72" height="64"/><use href="#mW"/><text class="l" x="10.3" y="53.7">C00001</text></g>
<g id="C00001_4" transform="translate(411.5,1070.5)"><rect class="c" width="72" height="64"/><use href="#mW"/><text class="l" x="10.3" y="53.7">C00001</text></g>
<g id="C00011_3" transform="translate(507.5,1074.5)"><rect class="c" width="72" height="56"/><use href="#mCO2"/><text class="l" x="12.3" y="45">C00011</text></g>
<g id="C02350" transform="translate(603.5,1051.5)"><rect class="c" width="147" height="101"/><use href="#mC02350"/><text class="l" x="8" y="90">C02350</text></g>
<g id="C02348" transform="translate(822.5,1035.5)"><rect class="c" width="125" height="133"/><use href="#mC02348"/><text class="l" x="8" y="120.8">C02348</text></g>
<g id="C00011_4" transform="translate(971.5,1074.5)"><rect class="c" width="72" height="56"/><use href="#mCO2"/><text class="l" x="12.3" y="45">C00011</text></g>
<g id="C00001_5" transform="translate(520.5,1334.5)"><rect class="c" width="72" height="64"/><use href="#mW"/><text class="l" x="10.3" y="53.7">C00001</text></g>
<g id="C00080_1" transform="translate(616.5,1342.5)"><rect class="c" width="72" height="48"/><use href="#mHp"/><text class="l" x="15.3" y="36.8">C00080</text></g>
<g id="C11821" transform="translate(712.5,1312.5)"><rect class="c" width="136" height="106.5"/><use href="#mC11821"/><text class="l" x="8" y="95.5">C11821</text></g>
<g id="C00001_6" transform="translate(872.5,1334.5)"><rect class="c" width="72" height="64"/><use href="#mW"/><text class="l" x="10.3" y="53.7">C00001</text></g>
<g id="C00080_2" transform="translate(968.5,1342.5)"><rect class="c" width="72" height="48"/><use href="#mHp"/><text class="l" x="15.3" y="36.8">C00080</text></g>
<g id="C00027_1" transform="translate(1064.5,1342.5)"><rect class="c" width="72" height="48"/><use href="#mH2O2"/><text class="l" x="11.3" y="36.8">C00027</text></g>
<g id="C00007_1" transform="translate(808.5,1591.5)"><rect class="c" width="72" height="48"/><use href="#mO2"/><text class="l" x="15.3" y="37">C00007</text></g>
<g id="C00001_7" transform="translate(904.5,1583.5)"><rect class="c" width="72" height="64"/><use href="#mW"/><text class="l" x="10.3" y="53.7">C00001</text></g>
<g id="C00366" transform="translate(1000.5,1563.5)"><rect class="c" width="128" height="104"/><use href="#mC00366"/><text class="l" x="8.3" y="92.5">C00366</text></g>
<g id="C00027_2" transform="translate(1152.5,1591.5)"><rect class="c" width="72" height="48"/><use href="#mH2O2"/><text class="l" x="11.3" y="36.8">C00027</text></g>
<g id="C00001_8" transform="translate(898.5,1864.5)"><rect class="c" width="72" height="64"/><use href="#mW"/><text class="l" x="10.3" y="53.7">C00001</text></g>
<g id="C00080_3" transform="translate(994.5,1872.5)"><rect class="c" width="72" height="48"/><use href="#mHp"/><text class="l" x="15.3" y="36.8">C00080</text></g>
<g id="C00007_2" transform="translate(1090.5,1872.5)"><rect class="c" width="72" height="48"/><use href="#mO2"/><text class="l" x="15.3" y="37">C00007</text></g>
<g id="C00385" transform="translate(1186.5,1839.5)"><rect class="c" width="120" height="115"/><use href="#mC00385"/><text class="l" x="8.7" y="103.6">C00385</text></g>
<g id="C00004" transform="translate(1331.5,1811.5)"><rect class="c" width="304" height="170.5"/><use href="#mC00004"/><text class="l" x="7.8" y="159.8">C00004</text></g>
<g id="C00003_2" transform="translate(882.5,2126.5)"><rect class="c" width="304" height="173"/><use href="#mC00003n"/><text class="l" x="8.5" y="162.2">C00003</text></g>
<g id="C00001_9" transform="translate(1210.5,2180.5)"><rect class="c" width="72" height="64"/><use href="#mW"/><text class="l" x="10.3" y="53.7">C00001</text></g>
<g id="C00262" transform="translate(1307.5,2160.5)"><rect class="c" width="112" height="104"/><use href="#mC00262"/><text class="l" x="8.3" y="93">C00262</text></g>
<g id="C00014_4" transform="translate(1443.5,2174.5)"><rect class="c" width="72" height="77"/><use href="#mNH3"/><text class="l" x="13.3" y="66.7">C00014</text></g>
<g id="C00117" transform="translate(342.5,2164.5)"><rect class="c" width="170" height="96"/><use href="#mC00117"/><text class="l" x="8.4" y="85">C00117</text></g>
<g id="C00003_3" transform="translate(536.5,2159.5)"><rect class="c" width="275" height="107"/><use href="#mADP"/><text class="l" x="10" y="95.7">C00003</text></g>
<g id="C00199" transform="translate(334.5,2454.5)"><rect class="c" width="186" height="96"/><use href="#mC00199"/><text class="l" x="8" y="85.4">C00199</text></g>
<g id="C00121" transform="translate(567.5,2455.5)"><rect class="c" width="125" height="93"/><use href="#mC00121"/><text class="l" x="8.4" y="82">C00121</text></g>
<g id="C00002_2" transform="translate(716.5,2446.5)"><rect class="c" width="328" height="112"/><use href="#mATP"/><text class="l" x="9.3" y="101">C00002</text></g>
<g id="C00147" transform="translate(1068.5,2444.5)"><rect class="c" width="91" height="115"/><use href="#mC00147"/><text class="l" x="9.6" y="104">C00147</text></g>
<g id="C00620" transform="translate(1183.5,2447.5)"><rect class="c" width="171" height="109"/><use href="#mC00620"/><text class="l" x="8" y="98.3">C00620</text></g>
<g id="C00001_10" transform="translate(1378.5,2470.5)"><rect class="c" width="72" height="64"/><use href="#mW"/><text class="l" x="10.3" y="53.7">C00001</text></g>
<g id="C15556" transform="translate(342.5,2760.5)"><rect class="c" width="165" height="99"/><use href="#mC15556"/><text class="l" x="8.3" y="89.2">C15556</text></g>
<g id="C00058" transform="translate(531.5,2772.5)"><rect class="c" width="72" height="75.5"/><use href="#mC00058"/><text class="l" x="10.3" y="64.8">C00058</text></g>
<g id="C00001_11" transform="translate(647.5,2778.5)"><rect class="c" width="72" height="64"/><use href="#mW"/><text class="l" x="10.3" y="53.7">C00001</text></g>
<g id="C00009_1" transform="translate(743.5,2766.5)"><rect class="c" width="85" height="88"/><use href="#mC00009"/><text class="l" x="8.5" y="77.5">C00009</text></g>
<g id="C00212" transform="translate(852.5,2754.5)"><rect class="c" width="208" height="112"/><use href="#mC00212"/><text class="l" x="9.5" y="101.5">C00212</text></g>
<g id="C00009_2" transform="translate(1084.5,2766.5)"><rect class="c" width="86" height="88"/><use href="#mC00009"/><text class="l" x="8.5" y="77.5">C00009</text></g>
<g id="C00006" transform="translate(6.5,2704.5)"><rect class="c" width="312" height="210.5"/><use href="#mC00006"/><text class="l" x="9.7" y="200">C00006</text></g>
<g id="C00005" transform="translate(19.5,3059.5)"><rect class="c" width="411" height="269"/><use href="#mC00005"/><text class="l" x="8.3" y="258.8">C00005</text></g>
<g id="C00011_5" transform="translate(454.5,3166.5)"><rect class="c" width="72" height="56"/><use href="#mCO2"/><text class="l" x="12.3" y="45">C00011</text></g>
<g id="C00001_12" transform="translate(704.5,3162.5)"><rect class="c" width="72" height="64"/><use href="#mW"/><text class="l" x="10.3" y="53.7">C00001</text></g>
<g id="C00075" transform="translate(800.5,3139.5)"><rect class="c" width="294" height="109"/><use href="#mUTP"/><text class="l" x="9.5" y="98.3">C00075</text></g>
<g id="C00020" transform="translate(1118.5,3138.5)"><rect class="c" width="245" height="112"/><use href="#mAMP"/><text class="l" x="8.8" y="100">C00020</text></g>
<g id="C00015" transform="translate(823.5,3472.5)"><rect class="c" width="253" height="110"/><use href="#mUDP"/><text class="l" x="8.4" y="98.3">C00015</text></g>
<g id="C00003_4" transform="translate(1100.5,3474.5)"><rect class="c" width="275" height="106"/><use href="#mADP"/><text class="l" x="10" y="95.7">C00003</text></g>
</svg>
